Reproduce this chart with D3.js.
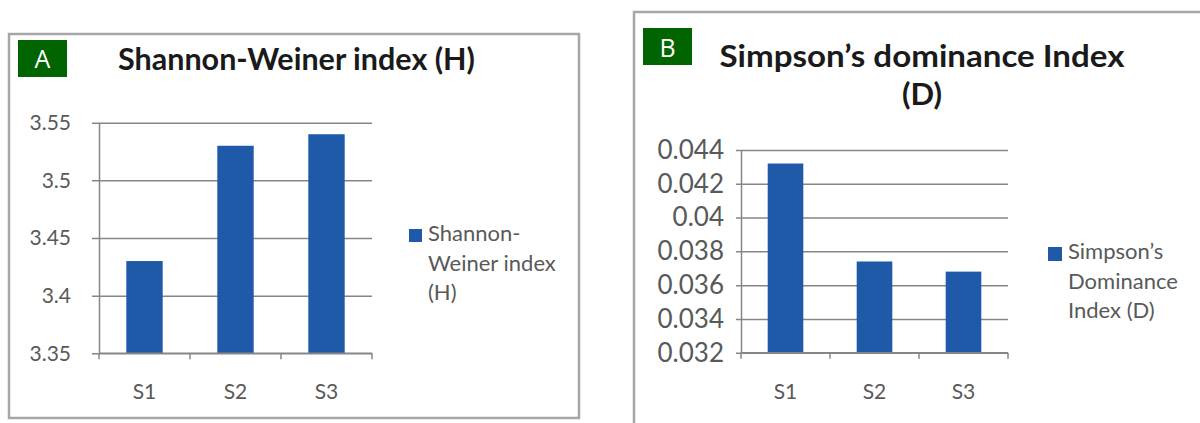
<!DOCTYPE html>
<head>
<meta charset="utf-8">
<style>
  body { margin: 0; background: #fff; }
  svg text { font-family: Lato, "Noto Sans", sans-serif; }
</style>
</head>
<body>
<div id="chart"></div>
<script src="https://cdnjs.cloudflare.com/ajax/libs/d3/7.8.5/d3.min.js"></script>
<script>
var categories = ['S1', 'S2', 'S3'];
var shannonValues = [3.43, 3.53, 3.54];
var shannonTicks = [3.35, 3.4, 3.45, 3.5, 3.55];
var simpsonValues = [0.0432, 0.0374, 0.0368];
var simpsonTicks = [0.032, 0.034, 0.036, 0.038, 0.04, 0.042, 0.044];

var svg = d3.select('#chart').append('svg')
  .attr('width', 1200)
  .attr('height', 423);

// panel frames
svg.append('rect')
  .attr('x', 9).attr('y', 34).attr('width', 570).attr('height', 384)
  .attr('fill', 'none').attr('stroke', '#a6a6a6').attr('stroke-width', 2.5);
svg.append('rect')
  .attr('x', 634).attr('y', 12).attr('width', 600).attr('height', 440)
  .attr('fill', 'none').attr('stroke', '#a6a6a6').attr('stroke-width', 2.5);

drawPanel({
  letter: 'A', box: [18, 40, 49, 37], letterY: 68,
  title: ['Shannon-Weiner index (H)'], titleX: 296.5, titleY: [70], titleLen: [357], titleSize: 30,
  values: shannonValues, ticks: shannonTicks,
  x0: 99, x1: 372, yTop: 122.7, yBottom: 353.3,
  tickLen: 7, labelPad: 22, labelSize: 21,
  legend: ['Shannon-', 'Weiner index', '(H)'], legendX: 409, legendY: 241, legendSq: 13
});

drawPanel({
  letter: 'B', box: [643, 28, 49, 37], letterY: 57,
  title: ['Simpson\u2019s dominance Index', '(D)'], titleX: 922, titleY: [67, 105], titleLen: [405, null], titleSize: 31,
  values: simpsonValues, ticks: simpsonTicks,
  x0: 741, x1: 1008, yTop: 150, yBottom: 352.7,
  tickLen: 5, labelPad: 11, labelSize: 26,
  legend: ['Simpson\u2019s', 'Dominance', 'Index (D)'], legendX: 1048, legendY: 259, legendSq: 14
});

function drawPanel(p) {
  var g = svg.append('g');

  // letter badge
  g.append('rect')
    .attr('x', p.box[0]).attr('y', p.box[1])
    .attr('width', p.box[2]).attr('height', p.box[3])
    .attr('fill', '#006400');
  g.append('text')
    .attr('x', p.box[0] + p.box[2] / 2).attr('y', p.letterY)
    .attr('text-anchor', 'middle')
    .attr('fill', '#fff')
    .style('font-family', '"Open Sans", sans-serif')
    .style('font-size', '25px')
    .text(p.letter);

  // title
  p.title.forEach(function(t, i) {
    var tx = g.append('text')
      .attr('x', p.titleX).attr('y', p.titleY[i])
      .attr('text-anchor', 'middle')
      .attr('fill', '#1a1a1a')
      .style('font-size', p.titleSize + 'px')
      .style('font-weight', 'bold')
      .text(t);
    if (p.titleLen[i]) tx.attr('textLength', p.titleLen[i]).attr('lengthAdjust', 'spacingAndGlyphs');
  });

  var x = d3.scaleBand()
    .domain(categories)
    .range([p.x0, p.x1])
    .paddingInner(0.6)
    .paddingOuter(0.3);

  var y = d3.scaleLinear()
    .domain([p.ticks[0], p.ticks[p.ticks.length - 1]])
    .range([p.yBottom, p.yTop]);

  // gridlines + y labels
  var yAxis = g.append('g')
    .attr('transform', 'translate(' + p.x0 + ',0)')
    .call(d3.axisLeft(y).tickValues(p.ticks).tickFormat(d3.format('~g')).tickSizeOuter(0).tickPadding(p.labelPad));
  yAxis.select('.domain').attr('stroke', '#868686').attr('stroke-width', 1.5);
  yAxis.selectAll('.tick line')
    .attr('x1', -p.tickLen).attr('x2', p.x1 - p.x0)
    .attr('stroke', '#868686').attr('stroke-width', 1.5);
  yAxis.selectAll('.tick text')
    .attr('fill', '#595959')
    .style('font-family', 'Lato, sans-serif')
    .style('font-size', p.labelSize + 'px');

  // bars
  g.selectAll('rect.bar')
    .data(p.values).enter().append('rect')
    .attr('class', 'bar')
    .attr('x', function(d, i) { return x(categories[i]); })
    .attr('width', x.bandwidth())
    .attr('y', function(d) { return y(d); })
    .attr('height', function(d) { return p.yBottom - y(d); })
    .attr('fill', '#1f5aa8');

  // x axis
  var step = x.step();
  g.append('line')
    .attr('x1', p.x0).attr('x2', p.x1)
    .attr('y1', p.yBottom).attr('y2', p.yBottom)
    .attr('stroke', '#868686').attr('stroke-width', 1.5);
  g.selectAll('line.xtick')
    .data(d3.range(categories.length + 1)).enter().append('line')
    .attr('class', 'xtick')
    .attr('x1', function(i) { return p.x0 + i * step; })
    .attr('x2', function(i) { return p.x0 + i * step; })
    .attr('y1', p.yBottom).attr('y2', p.yBottom + 6)
    .attr('stroke', '#868686').attr('stroke-width', 1.5);
  g.selectAll('text.xlabel')
    .data(categories).enter().append('text')
    .attr('class', 'xlabel')
    .attr('x', function(d) { return x(d) + x.bandwidth() / 2; })
    .attr('y', p.yBottom + 46)
    .attr('text-anchor', 'middle')
    .attr('fill', '#595959')
    .style('font-size', '21px')
    .text(function(d) { return d; });

  // legend
  g.append('rect')
    .attr('x', p.legendX).attr('y', p.legendY - 12)
    .attr('width', p.legendSq).attr('height', p.legendSq)
    .attr('fill', '#1f5aa8');
  p.legend.forEach(function(t, i) {
    g.append('text')
      .attr('x', p.legendX + p.legendSq + 6).attr('y', p.legendY + i * 29.5)
      .attr('fill', '#595959')
      .style('font-size', '22px')
      .text(t);
  });
}
</script>
</body>
</html>
